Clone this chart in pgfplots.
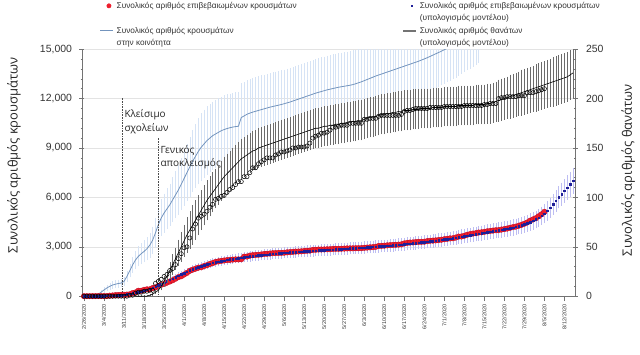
\documentclass[border=0pt]{standalone}
\usepackage{pgfplots}
\pgfplotsset{compat=1.18}
\usepackage{pgfplotstable}
\usepackage{fontspec}
\setmainfont{Liberation Sans}
\newfontfamily\opensans{Open Sans}
\newfontfamily\legfont{Liberation Sans}
\definecolor{redc}{rgb}{0.93,0.12,0.18}
\definecolor{redd}{rgb}{0.75,0.02,0.12}
\definecolor{navy}{rgb}{0.12,0.12,0.6}
\definecolor{lav}{rgb}{0.74,0.74,0.95}
\definecolor{commc}{rgb}{0.45,0.58,0.74}
\definecolor{commbar}{rgb}{0.84,0.89,0.96}
\definecolor{dbar}{rgb}{0.42,0.42,0.42}
\definecolor{axgray}{rgb}{0.45,0.45,0.45}
\definecolor{txt}{rgb}{0.2,0.2,0.2}
\pgfplotsset{shortline/.style={legend image code/.code={\draw[##1] (0cm,0cm) -- (0.45cm,0cm);}}}

\pgfplotstableread{
d conf model merr comm cerr death dmod derr
0 0 1 0 nan nan 0 nan nan
1 1 2 0 nan nan 0 nan nan
2 3 3 0 nan nan 0 nan nan
3 4 4 0 0 0 0 nan nan
4 7 6 1 50 10 0 nan nan
5 7 8 1 120 25 0 nan nan
6 7 11 1 250 55 0 nan nan
7 7 15 2 380 85 0 nan nan
8 9 20 2 500 110 0 nan nan
9 31 27 3 600 130 0 nan nan
10 45 35 4 680 150 0 nan nan
11 66 45 5 730 160 0 nan nan
12 73 57 6 770 170 0 nan nan
13 84 72 7 800 175 0 nan nan
14 89 90 9 900 200 0 nan nan
15 99 112 11 1200 260 0 nan nan
16 117 138 14 1550 340 1 nan nan
17 190 168 17 1900 420 1 nan nan
18 228 203 20 2200 480 3 0 0
19 331 243 24 2420 530 4 0 0
20 331 288 29 2580 570 4 0 0
21 387 338 34 2720 600 5 0 0
22 418 393 39 2880 630 5 0 0
23 418 453 45 3100 680 6 1 0
24 495 518 52 3400 750 6 2 1
25 530 588 59 3850 850 13 4 1
26 624 662 66 4350 960 15 6 2
27 695 740 74 4750 1050 17 10 3
28 743 821 82 5050 1110 20 15 4
29 821 905 91 5300 1170 22 20 5
30 892 990 99 5550 1220 26 26 7
31 966 1076 108 5850 1290 28 32 9
32 1061 1162 116 6150 1350 32 38 10
33 1156 1247 125 6450 1420 38 44 12
34 1212 1330 133 6800 1500 43 50 14
35 1314 1411 141 7150 1570 49 56 15
36 1415 1489 149 7500 1650 50 62 17
37 1544 1564 156 7850 1730 59 67 18
38 1613 1635 164 8200 1800 68 72 19
39 1673 1702 170 8500 1870 73 77 19
40 1735 1765 177 8800 1940 79 82 19
41 1755 1824 182 9050 2000 81 87 19
42 1832 1879 188 9250 2000 83 92 19
43 1884 1930 193 9450 2000 86 97 19
44 1955 1977 198 9600 2000 90 101 19
45 2011 2021 202 9750 2000 93 105 19
46 2081 2062 206 9850 2000 98 109 19
47 2114 2100 210 9950 2000 99 113 19
48 2145 2136 214 10050 2000 101 117 19
49 2170 2170 217 10120 2000 102 121 19
50 2192 2202 220 10180 2000 105 124 19
51 2207 2233 223 10230 2000 108 127 19
52 2224 2262 226 10270 2000 110 130 19
53 2235 2290 229 10300 2000 113 133 19
54 2235 2317 232 10320 2000 116 136 19
55 2245 2343 234 10850 2000 116 139 19
56 2401 2368 237 10950 2000 121 141 19
57 2408 2392 239 11050 2000 121 143 19
58 2463 2415 242 11120 2000 125 145 19
59 2490 2437 244 11180 2000 130 147 19
60 2506 2458 246 11230 2000 130 148 19
61 2517 2478 248 11280 2000 134 150 19
62 2534 2497 250 11330 2000 136 151 19
63 2566 2515 252 11380 2000 138 152 19
64 2576 2533 253 11430 2000 140 153 19
65 2591 2550 255 11480 2000 140 154 19
66 2612 2567 257 11520 2000 140 155 19
67 2620 2583 258 11560 2000 143 156 19
68 2626 2599 260 11600 2000 144 157 19
69 2632 2614 261 11640 2000 146 158 19
70 2642 2629 263 11690 2000 146 159 19
71 2663 2643 264 11740 2000 147 160 19
72 2678 2657 266 11790 2000 148 161 19
73 2691 2671 267 11850 2000 150 162 19
74 2710 2684 268 11910 2000 150 163 19
75 2716 2697 270 11970 2000 151 164 19
76 2726 2710 271 12030 2000 151 165 19
77 2744 2722 272 12090 2000 151 166 19
78 2760 2734 273 12150 2000 152 167 19
79 2770 2746 275 12210 2000 155 168 19
80 2810 2758 276 12270 2000 160 169 19
81 2819 2770 277 12330 2000 162 170 19
82 2834 2781 278 12380 2000 163 170 19
83 2836 2792 279 12430 2000 165 171 19
84 2840 2803 280 12480 2000 165 172 19
85 2850 2814 281 12530 2000 166 172 19
86 2853 2825 283 12570 2000 168 173 19
87 2873 2836 284 12610 2000 171 173 19
88 2876 2847 285 12650 2000 171 174 19
89 2878 2858 286 12690 2000 172 174 19
90 2882 2869 287 12720 2000 173 175 19
91 2892 2880 288 12750 2000 173 175 19
92 2903 2891 289 12780 2000 173 176 19
93 2906 2902 290 12810 2000 175 176 19
94 2909 2913 291 12850 2000 175 177 19
95 2915 2924 292 12900 2000 175 177 19
96 2917 2935 294 12960 2000 175 178 19
97 2918 2947 295 13020 2000 175 178 19
98 2937 2959 296 13090 2000 179 179 19
99 2952 2971 297 13160 2000 179 180 19
100 2967 2983 298 13230 2000 180 181 19
101 2980 2996 300 13300 2000 180 181 19
102 2997 3009 301 13370 2000 180 182 19
103 3049 3022 302 13430 2000 182 183 19
104 3058 3036 304 13490 2000 183 184 19
105 3068 3050 305 13550 2000 183 184 19
106 3088 3064 306 13610 2000 183 185 19
107 3102 3079 308 13670 2000 183 185 19
108 3112 3094 309 13730 2000 183 186 19
109 3121 3110 311 13790 2000 183 186 19
110 3134 3126 313 13850 2000 183 187 19
111 3148 3142 314 13910 2000 184 187 19
112 3203 3159 316 13970 2000 187 188 19
113 3237 3176 318 14030 2000 188 188 19
114 3256 3194 319 14090 2000 188 188 19
115 3266 3212 321 14150 2000 189 189 19
116 3287 3231 323 14210 2000 190 189 19
117 3300 3250 325 14270 2000 190 189 19
118 3302 3270 327 14340 2000 190 190 19
119 3310 3290 329 14410 2000 190 190 19
120 3343 3311 331 14480 2000 190 190 19
121 3366 3332 333 14560 2000 191 190 19
122 3376 3354 335 14640 2000 191 191 19
123 3390 3377 338 14720 2000 191 191 19
124 3409 3400 340 14800 2000 191 191 19
125 3432 3424 342 14880 2000 191 191 19
126 3458 3449 345 14970 2000 192 192 19
127 3486 3475 348 15060 2000 192 192 19
128 3511 3502 350 15150 2000 192 192 19
129 3519 3530 353 15250 2000 192 192 19
130 3562 3559 356 15350 2000 192 192 19
131 3622 3589 359 15460 2000 192 193 19
132 3626 3620 362 15570 2000 192 193 19
133 3672 3651 365 15680 2000 193 193 19
134 3732 3682 368 15790 2000 193 193 19
135 3772 3713 371 15900 2000 193 193 19
136 3803 3744 374 16010 2000 193 193 19
137 3826 3775 378 16120 2000 193 194 19
138 3867 3806 381 16230 2000 193 194 19
139 3879 3836 384 nan nan 193 194 19
140 3910 3866 387 nan nan 194 194 19
141 3939 3895 390 nan nan 194 195 19
142 3964 3924 392 nan nan 195 195 19
143 3983 3952 395 nan nan 195 196 19
144 4007 3980 398 nan nan 195 197 19
145 4012 4008 401 nan nan 200 198 20
146 4048 4037 404 nan nan 201 199 20
147 4077 4067 407 nan nan 201 200 20
148 4109 4099 410 nan nan 202 201 20
149 4155 4134 413 nan nan 202 202 21
150 4193 4172 417 nan nan 202 203 21
151 4227 4214 421 nan nan 202 204 21
152 4279 4260 426 nan nan 203 205 21
153 4336 4311 431 nan nan 203 206 22
154 4401 4367 437 nan nan 203 207 22
155 4477 4430 443 nan nan 206 208 22
156 4587 4500 450 nan nan 206 209 22
157 4662 4578 458 nan nan 206 210 22
158 4737 4664 466 nan nan 207 211 23
159 4855 4758 476 nan nan 208 212 23
160 4973 4880 488 nan nan 209 213 23
161 5123 5000 500 nan nan 210 214 23
162 nan 5180 518 nan nan nan 215 23
163 nan 5380 538 nan nan nan 216 23
164 nan 5580 558 nan nan nan 217 24
165 nan 5790 579 nan nan nan 218 24
166 nan 6000 600 nan nan nan 219 24
167 nan 6200 620 nan nan nan 220 24
168 nan 6400 640 nan nan nan 221 24
169 nan 6600 660 nan nan nan 222 24
170 nan 6800 680 nan nan nan 224 24
171 nan 7000 700 nan nan nan 226 24
}\datatable

\begin{document}
\begin{tikzpicture}
\pgfplotsset{
  common/.style={
    scale only axis, width=493bp, height=247bp,
    xmin=-0.7, xmax=171.7,
    axis line style={axgray, line width=0.6bp},
    major tick length=5bp, minor tick length=2.5bp,
    tick style={axgray, line width=0.5bp},
    scaled y ticks=false,
    /pgf/number format/assume math mode=true,
    /pgf/number format/1000 sep={,},
  },
  barsonly/.style={draw=none, mark=none},
}
\begin{axis}[common,
  ymin=0, ymax=15000,
  axis x line*=bottom, axis y line*=left,
  xtick={0,7,...,168},
  xticklabels={2/26/2020,3/4/2020,3/11/2020,3/18/2020,3/25/2020,4/1/2020,4/8/2020,4/15/2020,4/22/2020,4/29/2020,5/6/2020,5/13/2020,5/20/2020,5/27/2020,6/3/2020,6/10/2020,6/17/2020,6/24/2020,7/1/2020,7/8/2020,7/15/2020,7/22/2020,7/29/2020,8/5/2020,8/12/2020},
  xticklabel style={rotate=90, anchor=east, font=\fontsize{5.5}{6}\selectfont, text=txt},
  yticklabel style={font=\fontsize{10.5}{12}\selectfont, text=txt, xshift=-4bp},
  xtick align=outside, ytick align=center,
  ytick={0,3000,...,15000}, minor y tick num=4,
  ymajorgrids, grid style={gray!22, line width=0.5bp},
  ylabel={Συνολικός αριθμός κρουσμάτων},
  ylabel style={at={(axis description cs:-0.138,0.57)}, anchor=center, font=\opensans\fontsize{13}{15}\selectfont, text=black!85},
  legend columns=2,
  legend cell align=left,
  legend style={at={(0.036,1.2)}, anchor=north west, draw=none, fill=none,
    font=\legfont\fontsize{8.3}{9}\selectfont, text=txt, inner sep=0pt,
    column sep=1bp, row sep=0.8bp},
]
\coordinate (O) at (rel axis cs:0,0);
\addlegendimage{only marks, mark=*, mark size=2.2bp, mark options={fill=redc, draw=redc}}
\addlegendentry{\makebox[283bp][l]{Συνολικός αριθμός επιβεβαιωμένων κρουσμάτων}}
\addlegendimage{only marks, mark=square*, mark size=0.8bp, mark options={fill=navy, draw=navy}}
\addlegendentry{Συνολικός αριθμός επιβεβαιωμένων κρουσμάτων}
\addlegendimage{empty legend}
\addlegendentry{}
\addlegendimage{empty legend}
\addlegendentry{(υπολογισμός μοντέλου)}
\addlegendimage{commc, line width=1bp, shortline}
\addlegendentry{Συνολικός αριθμός κρουσμάτων}
\addlegendimage{black!55, line width=1.4bp, shortline}
\addlegendentry{Συνολικός αριθμός θανάτων}
\addlegendimage{empty legend}
\addlegendentry{στην κοινότητα}
\addlegendimage{empty legend}
\addlegendentry{(υπολογισμός μοντέλου)}

% community cases
\addplot[forget plot, barsonly,
  error bars/.cd, y dir=both, y explicit,
  error bar style={draw=commbar, line width=0.45bp},
  error mark options={draw=commbar, mark size=1.2bp, line width=0.45bp}]
  table[x=d, y=comm, y error=cerr] {\datatable};
\addplot[forget plot, draw=commc, line width=0.8bp, mark=none]
  table[x=d, y=comm] {\datatable};
% model confirmed bars
\addplot[forget plot, barsonly,
  error bars/.cd, y dir=both, y explicit,
  error bar style={draw=lav, line width=0.5bp},
  error mark options={draw=lav, mark size=1.2bp, line width=0.5bp}]
  table[x=d, y=model, y error=merr] {\datatable};
% confirmed
\addplot[forget plot, only marks, mark=*, mark size=2.8bp,
  mark options={fill=redc, draw=redd, line width=0.3bp}]
  table[x=d, y=conf] {\datatable};
% model confirmed
\addplot[forget plot, only marks, mark=square*, mark size=0.75bp,
  mark options={fill=navy, draw=navy}]
  table[x=d, y=model] {\datatable};
% interventions
\addplot[forget plot, densely dotted, black!70, line width=0.6bp] coordinates {(13.3,0) (13.3,12100)};
\addplot[forget plot, densely dotted, black!70, line width=0.6bp] coordinates {(25.9,0) (25.9,9600)};
\node[anchor=west, inner sep=0pt, font=\opensans\fontsize{10}{11}\selectfont, text=black!85] at (axis cs:14.1,11050) {Κλείσιμο};
\node[anchor=west, inner sep=0pt, font=\opensans\fontsize{10}{11}\selectfont, text=black!85] at (axis cs:14.1,10150) {σχολείων};
\node[anchor=west, inner sep=0pt, font=\opensans\fontsize{10}{11}\selectfont, text=black!85] at (axis cs:26.7,8870) {Γενικός};
\node[anchor=west, inner sep=0pt, font=\opensans\fontsize{10}{11}\selectfont, text=black!85] at (axis cs:26.7,8020) {αποκλεισμός};
\end{axis}

\begin{axis}[common,
  ymin=0, ymax=250,
  axis x line=none, axis y line*=right,
  ytick align=center,
  ytick={0,50,...,250}, minor y tick num=4,
  yticklabel style={font=\fontsize{10.5}{12}\selectfont, text=txt, xshift=5bp},
  ylabel={Συνολικός αριθμός θανάτων},
  ylabel style={at={(axis description cs:1.108,0.51)}, anchor=center, font=\opensans\fontsize{13}{15}\selectfont, text=black!85},
]
\addplot[barsonly,
  error bars/.cd, y dir=both, y explicit,
  error bar style={draw=dbar, line width=0.45bp},
  error mark options={draw=dbar, mark size=1.2bp, line width=0.45bp}]
  table[x=d, y=dmod, y error=derr] {\datatable};
\addplot[black, line width=0.6bp, mark=none] table[x=d, y=dmod] {\datatable};
\addplot[only marks, mark=o, mark size=2.1bp, mark options={black, line width=0.5bp}]
  table[x=d, y=death] {\datatable};
\end{axis}
\path ([shift={(-82bp,-58bp)}]O) rectangle ([shift={(558bp,296bp)}]O);
\end{tikzpicture}
\end{document}
